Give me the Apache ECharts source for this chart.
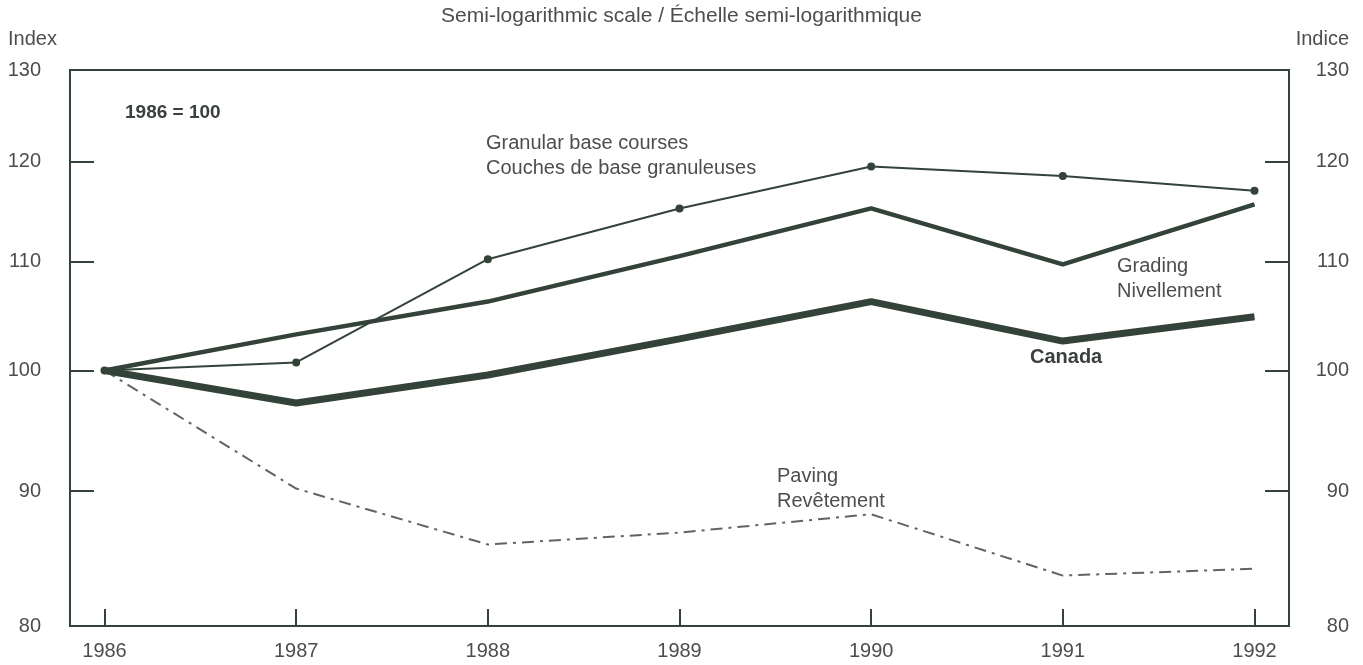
<!DOCTYPE html>
<html>
<head>
<meta charset="utf-8">
<script src="https://cdn.jsdelivr.net/npm/echarts@6/dist/echarts.min.js"></script>
<style>
html,body{margin:0;padding:0;background:#fff;}
#chart{width:1363px;height:665px;}
</style>
</head>
<body>
<div id="chart"></div>
<script>
// ---- data (index, 1986 = 100) ----
const years = [1986, 1987, 1988, 1989, 1990, 1991, 1992];
const granular = [100.0, 100.7, 110.2, 115.2, 119.5, 118.5, 117.0];
const grading  = [100.0, 103.2, 106.2, 110.5, 115.2, 109.7, 115.6];
const canada   = [100.0, 97.2, 99.6, 102.8, 106.2, 102.6, 104.8];
const paving   = [100.0, 90.2, 85.9, 86.8, 88.2, 83.6, 84.1];
const yTicks = [80, 90, 100, 110, 120, 130];
const xTicks = [1986, 1987, 1988, 1989, 1990, 1991, 1992];

// semi-log scale: plot log10 of values on a linear axis
const L = v => Math.log10(v);
const pairs = arr => years.map((y, i) => [y, L(arr[i])]);
const logTicks = yTicks.map(L);

const ink = '#34433a';
const txt = '#4a4f4c';
const font = '"Liberation Sans", Arial, Helvetica, sans-serif';

const yAxisBase = {
  type: 'value',
  min: L(80), max: L(130),
  axisLine: {show: false},
  splitLine: {show: false},
  axisTick: {show: true, inside: true, length: 24, lineStyle: {color: ink, width: 2}, customValues: logTicks.slice(1, -1)},
  axisLabel: {
    customValues: logTicks,
    formatter: v => String(Math.round(Math.pow(10, v))),
    color: txt, fontSize: 20, fontFamily: font
  }
};

const chart = echarts.init(document.getElementById('chart'));
chart.setOption({
  animation: false,
  backgroundColor: '#ffffff',
  title: {
    text: 'Semi-logarithmic scale / Échelle semi-logarithmique',
    left: 'center', top: 1,
    textStyle: {color: txt, fontSize: 21, fontWeight: 'normal', fontFamily: font}
  },
  grid: {left: 70, right: 74, top: 70, bottom: 39, show: true, borderColor: ink, borderWidth: 2, backgroundColor: 'transparent'},
  xAxis: {
    type: 'value', min: 1985.82, max: 1992.18,
    axisLine: {show: false},
    splitLine: {show: false},
    axisTick: {show: true, inside: true, length: 17, lineStyle: {color: ink, width: 2}, customValues: xTicks},
    axisLabel: {customValues: xTicks, formatter: v => String(v), color: txt, fontSize: 20, fontFamily: font, margin: 15}
  },
  yAxis: [
    Object.assign({}, yAxisBase, {position: 'left', axisLabel: Object.assign({}, yAxisBase.axisLabel, {align: 'right', margin: 29})}),
    Object.assign({}, yAxisBase, {position: 'right', axisLabel: Object.assign({}, yAxisBase.axisLabel, {align: 'right', margin: 60})})
  ],
  series: [
    {name: 'Paving', type: 'line', data: pairs(paving), symbol: 'none',
     lineStyle: {color: '#5e6661', width: 2, type: [12, 6, 3, 6]}},
    {name: 'Granular', type: 'line', data: pairs(granular), symbol: 'circle', symbolSize: 8,
     itemStyle: {color: ink}, lineStyle: {color: ink, width: 2}},
    {name: 'Grading', type: 'line', data: pairs(grading), symbol: 'none',
     lineStyle: {color: ink, width: 4.5}},
    {name: 'Canada', type: 'line', data: pairs(canada), symbol: 'circle', symbolSize: 1, showSymbol: false,
     lineStyle: {color: ink, width: 7}}
  ],
  graphic: [
    {type: 'text', left: 8, top: 29, style: {text: 'Index', fill: txt, font: '20px ' + font}},
    {type: 'text', right: 14, top: 29, style: {text: 'Indice', fill: txt, font: '20px ' + font}},
    {type: 'text', left: 125, top: 103, style: {text: '1986 = 100', fill: '#3a403c', font: 'bold 19px ' + font}},
    {type: 'text', left: 486, top: 131, style: {text: 'Granular base courses\nCouches de base granuleuses', fill: txt, font: '20px ' + font, lineHeight: 25}},
    {type: 'text', left: 1117, top: 254, style: {text: 'Grading\nNivellement', fill: txt, font: '20px ' + font, lineHeight: 25}},
    {type: 'text', left: 1030, top: 347, style: {text: 'Canada', fill: '#3a403c', font: 'bold 20px ' + font}},
    {type: 'text', left: 777, top: 464, style: {text: 'Paving\nRevêtement', fill: txt, font: '20px ' + font, lineHeight: 25}}
  ]
});
</script>
</body>
</html>
